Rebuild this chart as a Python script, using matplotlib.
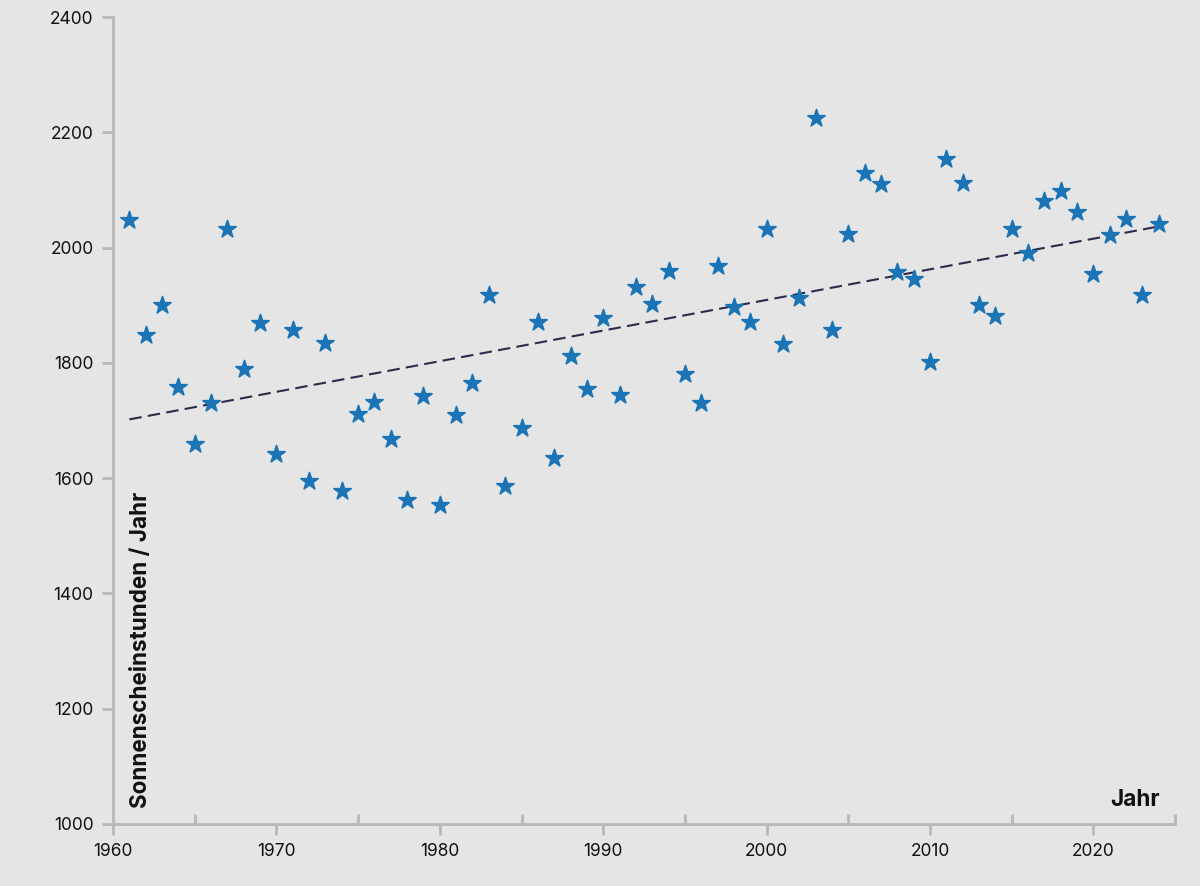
import numpy as np
import matplotlib
matplotlib.use('Agg')
import matplotlib.pyplot as plt
from matplotlib.ticker import MultipleLocator

plt.rcParams['font.family'] = ['Inter', 'DejaVu Sans']

# Sonnenscheinstunden pro Jahr
years = list(range(1961, 2025))
hours = [
    2048, 1848, 1900, 1758, 1659, 1730, 2032, 1789, 1869, 1642,
    1857, 1595, 1834, 1578, 1711, 1732, 1668, 1562, 1743, 1553,
    1710, 1765, 1918, 1586, 1687, 1871, 1635, 1812, 1755, 1878,
    1744, 1932, 1902, 1959, 1781, 1730, 1968, 1897, 1871, 2032,
    1833, 1913, 2225, 1857, 2024, 2129, 2110, 1958, 1946, 1802,
    2154, 2112, 1900, 1881, 2032, 1991, 2081, 2098, 2062, 1954,
    2022, 2050, 1918, 2041,
]

bg = '#e5e5e5'
axis_gray = '#b8b8b8'
star_blue = '#1a74b6'

fig = plt.figure(figsize=(12, 8.86), dpi=100, facecolor=bg)
ax = fig.add_axes([0.0942, 0.07, 0.8850, 0.9108])
ax.set_facecolor(bg)

x = np.array(years)
y = np.array(hours)
ax.scatter(x, y, marker='*', s=170, color=star_blue, edgecolors=star_blue,
           linewidths=1.2, zorder=3)

# lineare Trendlinie
coef = np.polyfit(x, y, 1)
ax.plot(x, np.polyval(coef, x), linestyle=(0, (6, 3)), color='#2b2b4b',
        linewidth=1.5, zorder=2)

ax.set_xlim(1960, 2025)
ax.set_ylim(1000, 2400)
ax.xaxis.set_major_locator(MultipleLocator(10))
ax.xaxis.set_minor_locator(MultipleLocator(5))
ax.yaxis.set_major_locator(MultipleLocator(200))

for s in ['top', 'right']:
    ax.spines[s].set_visible(False)
for s in ['left', 'bottom']:
    ax.spines[s].set_color(axis_gray)
    ax.spines[s].set_linewidth(2)

ax.tick_params(axis='both', which='major', direction='out', length=8,
               width=2, color=axis_gray, labelsize=12.5, labelcolor='#111111',
               pad=6)
ax.tick_params(axis='x', which='minor', direction='in', length=7, width=2,
               color=axis_gray)

ax.text(0.016, 0.02, 'Sonnenscheinstunden / Jahr', transform=ax.transAxes,
        rotation=90, ha='left', va='bottom', fontsize=16.2, fontweight='bold',
        color='#111111')
ax.text(0.986, 0.016, 'Jahr', transform=ax.transAxes, ha='right',
        va='bottom', fontsize=16.2, fontweight='bold', color='#111111')

fig.savefig('out.png', dpi=100, facecolor=bg)
